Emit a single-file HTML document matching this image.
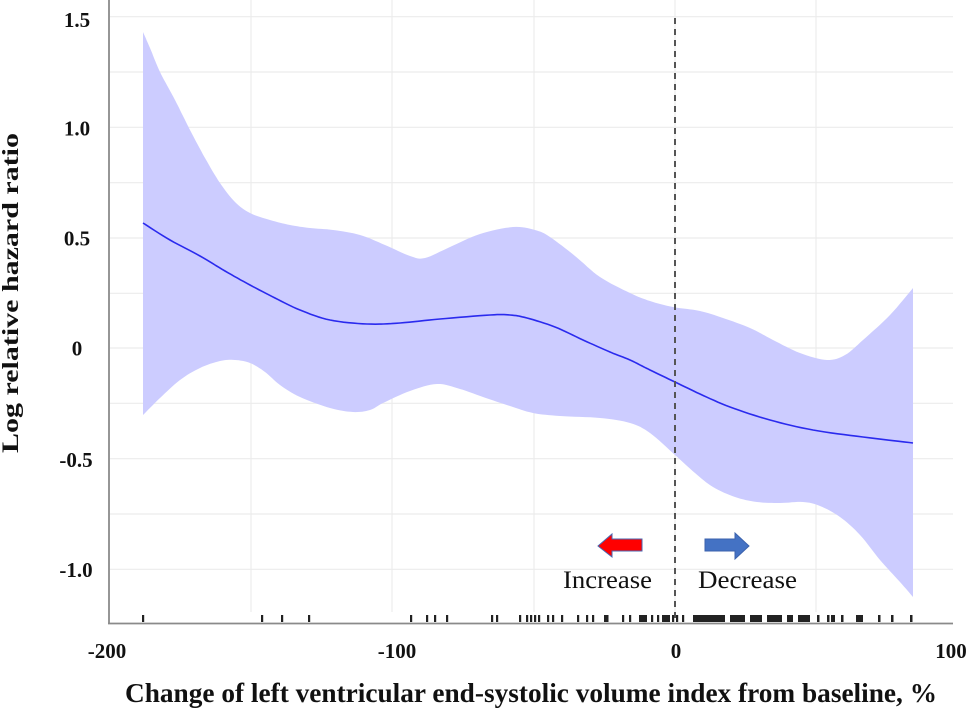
<!DOCTYPE html>
<html>
<head>
<meta charset="utf-8">
<style>
html,body{margin:0;padding:0;background:#fff;}
svg{display:block;}
text{font-family:"Liberation Serif","Times New Roman",serif;}
</style>
</head>
<body>
<svg width="969" height="710" viewBox="0 0 969 710" xmlns="http://www.w3.org/2000/svg">
<rect width="969" height="710" fill="#fff"/>
<g stroke="#ececec" stroke-width="1.2">
<line x1="110" y1="16.7" x2="953" y2="16.7"/>
<line x1="110" y1="72" x2="953" y2="72"/>
<line x1="110" y1="127.3" x2="953" y2="127.3"/>
<line x1="110" y1="182.7" x2="953" y2="182.7"/>
<line x1="110" y1="238" x2="953" y2="238"/>
<line x1="110" y1="293.3" x2="953" y2="293.3"/>
<line x1="110" y1="348" x2="953" y2="348"/>
<line x1="110" y1="403.3" x2="953" y2="403.3"/>
<line x1="110" y1="458.7" x2="953" y2="458.7"/>
<line x1="110" y1="514" x2="953" y2="514"/>
<line x1="110" y1="569.3" x2="953" y2="569.3"/>
<line x1="251" y1="0" x2="251" y2="612"/>
<line x1="392" y1="0" x2="392" y2="612"/>
<line x1="534" y1="0" x2="534" y2="612"/>
<line x1="675" y1="0" x2="675" y2="612"/>
<line x1="816" y1="0" x2="816" y2="612"/>
</g>
<polygon id="band" fill="#ccccff" points="143,32 150,48 160,72 175,100 190,130 205,158 220,183 235,202 250,213 270,220 290,225 310,228 333,230 360,235 385,245 410,256 425,258 450,247 480,234 513,227 535,230 550,237 575,256 600,277 630,293 650,301 673,307 700,311 723,318 750,328 773,340 800,353 827,360 845,355 863,340 890,315 913,288 913,597 900,582 880,560 860,535 840,517 820,506 803,502 780,503 757,502 735,497 713,487 695,473 675,455 650,433 630,423 600,418 560,416 533,413 510,406 483,397 460,389 437,384 410,391 383,403 370,410 353,412 330,408 300,397 280,385 265,372 250,363 235,360 220,361 200,368 180,380 160,398 143,415"/>
<polyline id="fit" fill="none" stroke="#2a2aee" stroke-width="1.6" stroke-linejoin="round" points="143,223 170,240 200,256 225,271 250,285 275,298 300,310 330,320 367,324 400,323 440,319 490,315 510,315 527,318 555,327 583,340 610,352 630,360 650,370 675,382 700,394 730,407 770,420 813,430 863,437 913,443"/>
<line x1="675" y1="18" x2="675" y2="623" stroke="#555" stroke-width="2" stroke-dasharray="6 5"/>
<line x1="109" y1="0" x2="109" y2="624" stroke="#8a8a8a" stroke-width="1.8"/>
<line x1="108" y1="623.5" x2="953" y2="623.5" stroke="#8a8a8a" stroke-width="1.8"/>
<g fill="#222">
<rect x="142" y="615" width="2.2" height="7"/>
<rect x="261" y="615" width="2.2" height="7"/>
<rect x="281" y="615" width="2.2" height="7"/>
<rect x="308" y="615" width="2.2" height="7"/>
<rect x="410" y="615" width="2.2" height="7"/>
<rect x="426" y="615" width="2.2" height="7"/>
<rect x="434" y="615" width="2.2" height="7"/>
<rect x="446" y="615" width="2.2" height="7"/>
<rect x="491" y="615" width="2.2" height="7"/>
<rect x="496" y="615" width="2.2" height="7"/>
<rect x="519" y="615" width="2.2" height="7"/>
<rect x="526" y="615" width="2.2" height="7"/>
<rect x="530" y="615" width="2.2" height="7"/>
<rect x="534" y="615" width="2.2" height="7"/>
<rect x="538" y="615" width="2.2" height="7"/>
<rect x="547" y="615" width="2.2" height="7"/>
<rect x="552" y="615" width="2.2" height="7"/>
<rect x="561" y="615" width="2.2" height="7"/>
<rect x="577" y="615" width="2.2" height="7"/>
<rect x="586" y="615" width="2.2" height="7"/>
<rect x="592" y="615" width="2.2" height="7"/>
<rect x="604" y="615" width="4.5" height="7"/>
<rect x="622" y="615" width="2.2" height="7"/>
<rect x="629" y="615" width="2.2" height="7"/>
<rect x="639" y="615" width="8" height="7"/>
<rect x="651" y="615" width="2.2" height="7"/>
<rect x="657" y="615" width="2.2" height="7"/>
<rect x="662" y="615" width="8" height="7"/>
<rect x="672" y="615" width="2.2" height="7"/>
<rect x="676" y="615" width="2.2" height="7"/>
<rect x="682" y="615" width="2.2" height="7"/>
<rect x="693" y="615" width="32" height="7"/>
<rect x="730" y="615" width="15" height="7"/>
<rect x="750" y="615" width="12" height="7"/>
<rect x="767" y="615" width="15" height="7"/>
<rect x="787" y="615" width="6" height="7"/>
<rect x="798" y="615" width="12" height="7"/>
<rect x="817" y="615" width="2.5" height="7"/>
<rect x="827" y="615" width="2.5" height="7"/>
<rect x="831" y="615" width="4" height="7"/>
<rect x="841" y="615" width="2.5" height="7"/>
<rect x="856" y="615" width="7" height="7"/>
<rect x="878" y="615" width="2.5" height="7"/>
<rect x="891" y="615" width="2.5" height="7"/>
<rect x="910" y="615" width="2.5" height="7"/>
</g>
<polygon points="598,546 612,534 612,539 642,539 642,551 612,551 612,557" fill="#ff0000" stroke="#4a66b0" stroke-width="1"/>
<polygon points="705,539 735,539 735,533 749,546 735,559 735,551 705,551" fill="#4472c4" stroke="#3b62ad" stroke-width="1"/>
<text x="563" y="588" font-size="25" textLength="89" lengthAdjust="spacingAndGlyphs" fill="#111">Increase</text>
<text x="698" y="588" font-size="25" textLength="99" lengthAdjust="spacingAndGlyphs" fill="#111">Decrease</text>
<g font-size="21" font-weight="bold" text-anchor="middle" fill="#111">
<text x="77" y="27">1.5</text>
<text x="77" y="135.5">1.0</text>
<text x="77" y="245.5">0.5</text>
<text x="77" y="355.5">0</text>
<text x="76" y="467">-0.5</text>
<text x="76" y="577">-1.0</text>
</g>
<g font-size="21" font-weight="bold" text-anchor="middle" fill="#111">
<text x="107" y="658">-200</text>
<text x="397" y="658">-100</text>
<text x="676" y="658">0</text>
<text x="951" y="658">100</text>
</g>
<text x="125" y="702" font-size="27" font-weight="bold" textLength="812" lengthAdjust="spacingAndGlyphs" fill="#111">Change of left ventricular end-systolic volume index from baseline, %</text>
<text transform="translate(18,453) rotate(-90)" x="0" y="0" font-size="23" font-weight="bold" textLength="320" lengthAdjust="spacingAndGlyphs" fill="#111">Log relative hazard ratio</text>
</svg>
<script>
(function(){
function parse(s){return s.trim().split(/\s+/).map(function(p){var a=p.split(',');return [parseFloat(a[0]),parseFloat(a[1])];});}
function cr(pts){
  var out=[];
  for(var i=0;i<pts.length-1;i++){
    var p0=pts[i>0?i-1:i],p1=pts[i],p2=pts[i+1],p3=pts[i+2<pts.length?i+2:i+1];
    for(var t=0;t<1;t+=0.125){
      var t2=t*t,t3=t2*t;
      var x=0.5*((2*p1[0])+(-p0[0]+p2[0])*t+(2*p0[0]-5*p1[0]+4*p2[0]-p3[0])*t2+(-p0[0]+3*p1[0]-3*p2[0]+p3[0])*t3);
      var y=0.5*((2*p1[1])+(-p0[1]+p2[1])*t+(2*p0[1]-5*p1[1]+4*p2[1]-p3[1])*t2+(-p0[1]+3*p1[1]-3*p2[1]+p3[1])*t3);
      out.push(x.toFixed(1)+','+y.toFixed(1));
    }
  }
  var l=pts[pts.length-1];out.push(l[0]+','+l[1]);
  return out;
}
try{
  var f=document.getElementById('fit');
  f.setAttribute('points',cr(parse(f.getAttribute('points'))).join(' '));
  var b=document.getElementById('band');
  var pts=parse(b.getAttribute('points'));
  var split=37;
  var up=pts.slice(0,split),lo=pts.slice(split);
  b.setAttribute('points',cr(up).concat(cr(lo)).join(' '));
}catch(e){}
})();
</script>
</body>
</html>
